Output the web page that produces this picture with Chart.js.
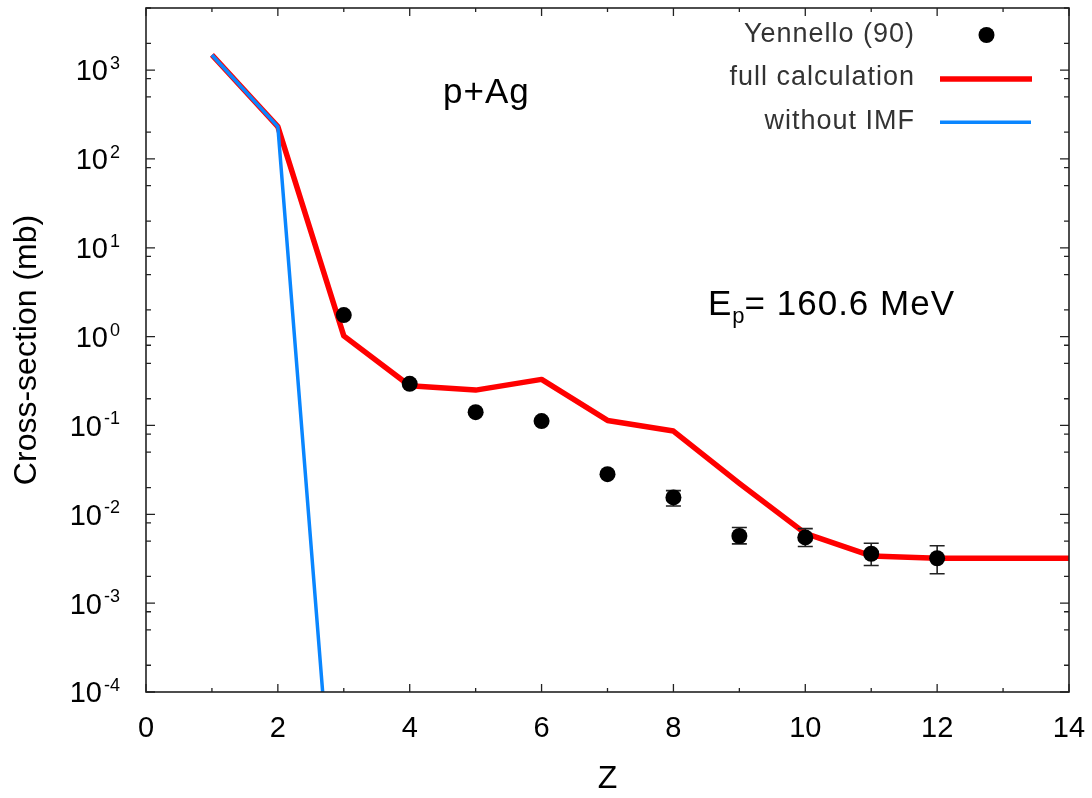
<!DOCTYPE html>
<html><head><meta charset="utf-8">
<script src="https://cdn.jsdelivr.net/npm/chart.js@4.4.1/dist/chart.umd.min.js"></script>
<style>html,body{margin:0;padding:0;background:#fff;}canvas{display:block;}</style>
</head><body>
<canvas id="c" width="1092" height="798"></canvas>
<script>
// ---- data ----
const expZ        = [3, 4, 5, 6, 7, 8, 9, 10, 11, 12];
const expSigma    = [1.75, 0.294, 0.141, 0.112, 0.0283, 0.0155, 0.0057, 0.0055, 0.0036, 0.0032];
const expErrLow   = [null, null, null, null, null, 0.0124, 0.00465, 0.00434, 0.00265, 0.00214];
const expErrHigh  = [null, null, null, null, null, 0.0185, 0.0071, 0.0069, 0.00473, 0.00442];
const fullZ       = [1, 2, 3, 4, 5, 6, 7, 8, 9, 10, 11, 12, 13, 14];
const fullSigma   = [1480, 231, 1.02, 0.28, 0.25, 0.33, 0.114, 0.0865, 0.0223, 0.0061, 0.0034, 0.0032, 0.0032, 0.0032];
const noImfZ      = [1, 2, 3];
const noImfSigma  = [1480, 231, 1e-7];
const xTickValues = [0, 2, 4, 6, 8, 10, 12, 14];
const xMinorTicks = [1, 3, 5, 7, 9, 11, 13];
const yTickExponents = [3, 2, 1, 0, -1, -2, -3, -4];
const yMinorFactors  = [2, 5, 0.8];
const legendLabels = ['Yennello (90)', 'full calculation', 'without IMF'];

const FONT = "'Liberation Sans', Arial, sans-serif";
const RED = '#ff0000';
const BLUE = '#0a86ff';
const AXIS = '#222';

const toXY = (xs, ys) => xs.map((x, i) => ({x: x, y: ys[i]}));
const setLS = (ctx, v) => { try { ctx.letterSpacing = v; } catch (e) {} };

const decorPlugin = {
  id: 'decor',
  afterDatasetDraw(chart, args) {
    if (args.index !== 1) return;
    const ctx = chart.ctx, xs = chart.scales.x, ys = chart.scales.y;
    ctx.save();
    ctx.strokeStyle = AXIS;
    ctx.lineWidth = 1.6;
    expZ.forEach((z, i) => {
      if (expErrLow[i] == null) return;
      const px = xs.getPixelForValue(z);
      const pl = ys.getPixelForValue(expErrLow[i]);
      const ph = ys.getPixelForValue(expErrHigh[i]);
      ctx.beginPath();
      ctx.moveTo(px, pl); ctx.lineTo(px, ph);
      ctx.moveTo(px - 7.5, pl); ctx.lineTo(px + 7.5, pl);
      ctx.moveTo(px - 7.5, ph); ctx.lineTo(px + 7.5, ph);
      ctx.stroke();
    });
    ctx.restore();
  },
  afterDraw(chart) {
    const ctx = chart.ctx, a = chart.chartArea, xs = chart.scales.x, ys = chart.scales.y;
    ctx.save();
    // frame
    ctx.strokeStyle = AXIS;
    ctx.lineWidth = 1.6;
    ctx.strokeRect(a.left, a.top, a.right - a.left, a.bottom - a.top);
    // ticks
    ctx.lineWidth = 1.3;
    ctx.beginPath();
    const xt = (v, len) => {
      const p = xs.getPixelForValue(v);
      ctx.moveTo(p, a.bottom); ctx.lineTo(p, a.bottom - len);
      ctx.moveTo(p, a.top); ctx.lineTo(p, a.top + len);
    };
    const yt = (v, len) => {
      if (v < ys.min || v > ys.max) return;
      const p = ys.getPixelForValue(v);
      ctx.moveTo(a.left, p); ctx.lineTo(a.left + len, p);
      ctx.moveTo(a.right, p); ctx.lineTo(a.right - len, p);
    };
    xTickValues.forEach(v => xt(v, 8));
    xMinorTicks.forEach(v => xt(v, 4));
    yTickExponents.forEach(e => {
      yt(Math.pow(10, e), 9);
      yMinorFactors.forEach(f => yt(f * Math.pow(10, e), 5));
    });
    ctx.stroke();

    // y tick labels with superscripts
    ctx.fillStyle = '#000';
    ctx.textBaseline = 'alphabetic';
    ctx.textAlign = 'right';
    yTickExponents.forEach(e => {
      const p = ys.getPixelForValue(Math.pow(10, e));
      const sup = String(e);
      ctx.font = '18px ' + FONT;
      const sw = ctx.measureText(sup).width;
      ctx.fillText(sup, 120, p - 1);
      ctx.font = '29px ' + FONT;
      ctx.fillText('10', 120 - sw - 2, p + 10.4);
    });

    // annotations
    ctx.textAlign = 'left';
    ctx.font = '35px ' + FONT;
    setLS(ctx, '1px');
    ctx.fillText('p+Ag', 443, 103);
    ctx.fillText('E', 708, 315);
    let xx = 708 + ctx.measureText('E').width;
    ctx.font = '22px ' + FONT;
    setLS(ctx, '0px');
    ctx.fillText('p', xx, 323);
    xx += ctx.measureText('p').width;
    ctx.font = '35px ' + FONT;
    setLS(ctx, '1px');
    ctx.fillText('= 160.6 MeV', xx, 315);

    // legend
    ctx.fillStyle = '#333';
    ctx.textAlign = 'right';
    ctx.font = '27px ' + FONT;
    setLS(ctx, '1px');
    ctx.fillText(legendLabels[0], 915, 42);
    ctx.fillText(legendLabels[1], 915, 85);
    ctx.fillText(legendLabels[2], 915, 128.5);
    setLS(ctx, '0px');
    ctx.fillStyle = '#000';
    ctx.beginPath();
    ctx.arc(986.5, 35, 8, 0, Math.PI * 2);
    ctx.fill();
    ctx.lineCap = 'butt';
    ctx.strokeStyle = RED; ctx.lineWidth = 5.5;
    ctx.beginPath(); ctx.moveTo(940, 79); ctx.lineTo(1032, 79); ctx.stroke();
    ctx.strokeStyle = BLUE; ctx.lineWidth = 3.5;
    ctx.beginPath(); ctx.moveTo(940, 122.3); ctx.lineTo(1031, 122.3); ctx.stroke();
    ctx.restore();
  }
};

new Chart(document.getElementById('c'), {
  type: 'line',
  data: {
    datasets: [
      {
        label: legendLabels[0],
        data: toXY(expZ, expSigma),
        showLine: false,
        pointRadius: 8,
        pointStyle: 'circle',
        pointBackgroundColor: '#000',
        pointBorderWidth: 0,
        borderColor: '#000'
      },
      {
        label: legendLabels[2],
        data: toXY(noImfZ, noImfSigma),
        borderColor: BLUE,
        borderWidth: 3.5,
        pointRadius: 0,
        tension: 0,
        clip: 0
      },
      {
        label: legendLabels[1],
        data: toXY(fullZ, fullSigma),
        borderColor: RED,
        borderWidth: 5.5,
        borderJoinStyle: 'round',
        pointRadius: 0,
        tension: 0
      }
    ]
  },
  options: {
    responsive: false,
    animation: false,
    events: [],
    layout: { padding: { left: 0, top: 7, right: 23, bottom: 0 } },
    plugins: { legend: { display: false }, tooltip: { enabled: false } },
    scales: {
      x: {
        type: 'linear', min: 0, max: 14,
        grid: { display: false, drawTicks: false },
        border: { display: false },
        ticks: { stepSize: 2, autoSkip: false, maxRotation: 0, padding: 20, color: '#000',
                 font: { family: FONT, size: 29 } },
        title: { display: true, text: 'Z', color: '#000', font: { family: FONT, size: 32 },
                 padding: { top: -7.2, bottom: 0 } },
        afterFit(axis) { axis.paddingLeft = 0; axis.paddingRight = 0; }
      },
      y: {
        type: 'logarithmic', min: 1e-4, max: 5000,
        grid: { display: false, drawTicks: false },
        border: { display: false },
        ticks: { display: false },
        title: { display: true, text: 'Cross-section (mb)', color: '#000',
                 font: { family: FONT, size: 32 }, padding: { top: 7.8, bottom: 99.8 } }
      }
    }
  },
  plugins: [decorPlugin]
});
</script>
</body></html>
